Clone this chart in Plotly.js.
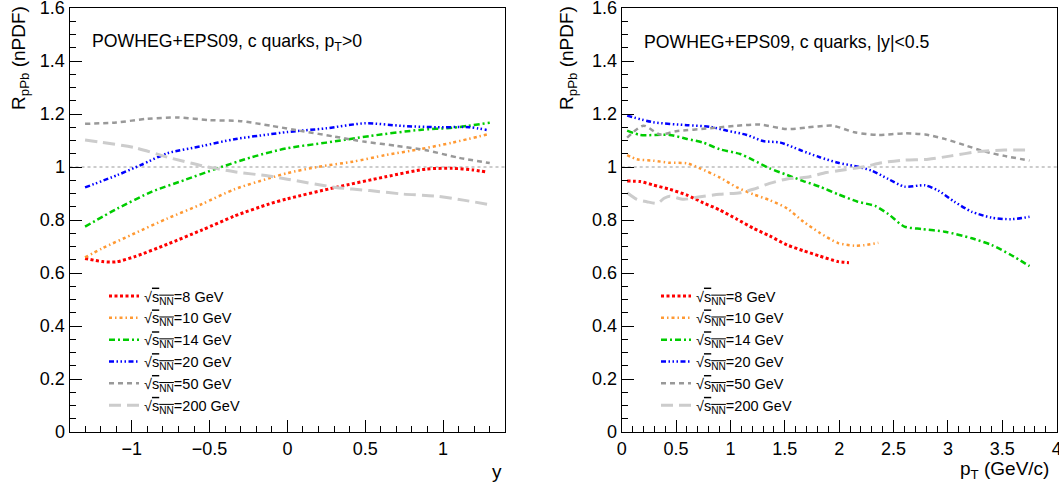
<!DOCTYPE html>
<html>
<head>
<meta charset="utf-8">
<script src="https://cdn.plot.ly/plotly-3.0.1.min.js"></script>
<style>html,body{margin:0;padding:0;background:#fff;}#chart{width:1059px;height:491px;}</style>
</head>
<body>
<div id="chart"></div>
<script>
// ---------- data ----------
const energies = ["8", "10", "14", "20", "50", "200"];
const seriesColors = ["#ff0000", "#ff9933", "#00cc00", "#0000ff", "#999999", "#cccccc"];
const seriesDash = ["3px,2.5px", "3px,3px,1.5px,3px", "6px,3px,2px,3px", "5px,2.5px,1.5px,2.5px,1.5px,2.5px,1.5px,2.5px", "5px,4px", "12px,6px"];
const seriesWidth = [3, 2.5, 2.5, 2.5, 2.5, 3];

// Left panel: R_pPb vs rapidity y (pT > 0)
const rapX_8   = [-1.3, -1.19, -1.1, -0.98, -0.77, -0.55, -0.34, -0.12, 0, 0.31, 0.63, 0.89, 1.06, 1.19, 1.28];
const rapR_8   = [0.655, 0.643, 0.642, 0.662, 0.709, 0.762, 0.815, 0.86, 0.88, 0.923, 0.963, 0.992, 0.995, 0.989, 0.981];
const rapX_10  = [-1.3, -1.19, -0.98, -0.77, -0.55, -0.34, -0.12, 0, 0.2, 0.42, 0.63, 0.85, 1.06, 1.3];
const rapR_10  = [0.659, 0.693, 0.75, 0.806, 0.86, 0.916, 0.957, 0.977, 1.001, 1.02, 1.045, 1.067, 1.092, 1.125];
const rapX_14  = [-1.3, -1.09, -0.87, -0.66, -0.45, -0.23, 0, 0.25, 0.53, 0.85, 1.06, 1.3];
const rapR_14  = [0.775, 0.844, 0.907, 0.951, 0.995, 1.037, 1.071, 1.092, 1.117, 1.14, 1.148, 1.167];
const rapX_20  = [-1.3, -1.09, -0.94, -0.77, -0.55, -0.34, -0.12, 0, 0.25, 0.5, 0.74, 0.96, 1.17, 1.28];
const rapR_20  = [0.923, 0.97, 1.008, 1.052, 1.079, 1.105, 1.123, 1.132, 1.146, 1.165, 1.155, 1.15, 1.15, 1.14];
const rapX_50  = [-1.3, -1.1, -0.9, -0.7, -0.5, -0.3, -0.1, 0.1, 0.3, 0.5, 0.7, 0.9, 1.1, 1.3];
const rapR_50  = [1.163, 1.168, 1.182, 1.187, 1.177, 1.173, 1.155, 1.135, 1.115, 1.095, 1.08, 1.062, 1.035, 1.015];
const rapX_200 = [-1.3, -0.98, -0.77, -0.55, -0.34, -0.12, 0, 0.31, 0.53, 0.74, 0.96, 1.13, 1.3];
const rapR_200 = [1.102, 1.073, 1.037, 1.005, 0.982, 0.966, 0.954, 0.923, 0.911, 0.898, 0.89, 0.875, 0.858];

// Right panel: R_pPb vs pT (|y| < 0.5)
const ptX_8   = [0.05, 0.17, 0.29, 0.44, 0.6, 0.75, 0.9, 1.06, 1.21, 1.36, 1.52, 1.67, 1.82, 1.99, 2.09];
const ptR_8   = [0.947, 0.945, 0.932, 0.916, 0.894, 0.865, 0.838, 0.803, 0.769, 0.74, 0.706, 0.684, 0.664, 0.643, 0.639];
const ptX_10  = [0.05, 0.14, 0.29, 0.44, 0.6, 0.72, 0.9, 1.06, 1.21, 1.36, 1.52, 1.67, 1.82, 1.99, 2.14, 2.23, 2.36];
const ptR_10  = [1.045, 1.029, 1.024, 1.016, 1.014, 0.995, 0.961, 0.923, 0.897, 0.875, 0.844, 0.794, 0.752, 0.713, 0.703, 0.705, 0.714];
const ptX_14  = [0.05, 0.17, 0.44, 0.6, 0.75, 0.9, 1.09, 1.21, 1.36, 1.52, 1.67, 1.82, 1.99, 2.17, 2.33, 2.45, 2.6, 2.76, 2.97, 3.22, 3.4, 3.58, 3.75];
const ptR_14  = [1.137, 1.121, 1.121, 1.106, 1.092, 1.067, 1.049, 1.026, 0.995, 0.97, 0.947, 0.926, 0.897, 0.869, 0.853, 0.823, 0.775, 0.766, 0.756, 0.731, 0.706, 0.668, 0.626];
const ptX_20  = [0.05, 0.29, 0.6, 0.81, 0.97, 1.15, 1.3, 1.46, 1.64, 1.82, 1.99, 2.14, 2.3, 2.45, 2.6, 2.79, 2.91, 3.06, 3.22, 3.4, 3.58, 3.75];
const ptR_20  = [1.194, 1.169, 1.158, 1.152, 1.137, 1.121, 1.098, 1.092, 1.064, 1.037, 1.016, 1.004, 0.986, 0.955, 0.926, 0.931, 0.911, 0.869, 0.831, 0.809, 0.803, 0.812];
const ptX_50  = [0.05, 0.2, 0.35, 0.5, 0.81, 1.06, 1.27, 1.52, 1.7, 1.94, 2.14, 2.36, 2.6, 2.79, 2.97, 3.15, 3.34, 3.52, 3.75];
const ptR_50  = [1.111, 1.156, 1.123, 1.135, 1.146, 1.156, 1.16, 1.143, 1.149, 1.156, 1.131, 1.121, 1.127, 1.123, 1.106, 1.083, 1.058, 1.042, 1.024];
const ptX_200 = [0.05, 0.14, 0.23, 0.33, 0.39, 0.44, 0.57, 0.69, 0.9, 1.09, 1.21, 1.36, 1.52, 1.7, 1.88, 1.99, 2.23, 2.39, 2.6, 2.82, 3.03, 3.28, 3.52, 3.75];
const ptR_200 = [0.903, 0.878, 0.869, 0.863, 0.882, 0.89, 0.878, 0.886, 0.897, 0.903, 0.916, 0.938, 0.955, 0.961, 0.979, 0.986, 1.001, 1.016, 1.026, 1.029, 1.042, 1.058, 1.064, 1.064];

const leftX  = [rapX_8, rapX_10, rapX_14, rapX_20, rapX_50, rapX_200];
const leftY  = [rapR_8, rapR_10, rapR_14, rapR_20, rapR_50, rapR_200];
const rightX = [ptX_8, ptX_10, ptX_14, ptX_20, ptX_50, ptX_200];
const rightY = [ptR_8, ptR_10, ptR_14, ptR_20, ptR_50, ptR_200];

// ---------- traces ----------
const FONT = '"Liberation Sans", Arial, Helvetica, sans-serif';
function label(e) {
  return '√<span style="text-decoration:overline">s<sub>NN</sub></span>=' + e + ' GeV';
}
const traces = [];
energies.forEach((e, i) => {
  traces.push({
    x: leftX[i], y: leftY[i], xaxis: 'x', yaxis: 'y', type: 'scatter', mode: 'lines',
    name: label(e), legend: 'legend',
    line: {color: seriesColors[i], width: seriesWidth[i], dash: seriesDash[i], shape: 'spline', smoothing: 0.7}
  });
});
energies.forEach((e, i) => {
  traces.push({
    x: rightX[i], y: rightY[i], xaxis: 'x2', yaxis: 'y2', type: 'scatter', mode: 'lines',
    name: label(e), legend: 'legend2',
    line: {color: seriesColors[i], width: seriesWidth[i], dash: seriesDash[i], shape: 'spline', smoothing: 0.7}
  });
});

const W = 1059, H = 491;
const frameTop = 8, frameBottom = 432;
const yDom = [1 - frameBottom / H, 1 - frameTop / H];

const axisCommon = {
  showgrid: false, zeroline: false, showline: true, linecolor: '#000', linewidth: 1, mirror: true,
  ticks: 'inside', ticklen: 12, tickwidth: 1, tickcolor: '#000',
  tickfont: {family: FONT, size: 18, color: '#000'},
  ticklabeloverflow: 'allow',
  fixedrange: true
};
const yAxisCommon = Object.assign({}, axisCommon, {
  range: [0, 1.60001], dtick: 0.2, tick0: 0,
  minor: {dtick: 0.05, ticks: 'inside', ticklen: 6, tickcolor: '#000', showgrid: false}
});

const legendCommon = {
  font: {family: FONT, size: 14.5, color: '#000'},
  bgcolor: 'rgba(0,0,0,0)', borderwidth: 0, itemwidth: 30,
  xanchor: 'left', yanchor: 'top', tracegroupgap: 0
};

const annFont = {family: FONT, size: 17.7, color: '#000'};
const titleFont = {family: FONT, size: 19, color: '#000'};
const layout = {
  width: W, height: H,
  margin: {l: 0, r: 0, t: 0, b: 0},
  paper_bgcolor: '#fff', plot_bgcolor: '#fff',
  showlegend: true,
  xaxis: Object.assign({}, axisCommon, {
    domain: [69.5 / W, 505.3 / W], range: [-1.4, 1.4], dtick: 0.5, tick0: 0,
    minor: {dtick: 0.1, ticks: 'inside', ticklen: 6, tickcolor: '#000', showgrid: false},
    anchor: 'y'
  }),
  yaxis: Object.assign({}, yAxisCommon, {domain: yDom, anchor: 'x'}),
  xaxis2: Object.assign({}, axisCommon, {
    domain: [621.7 / W, 1056.7 / W], range: [0, 4.0001], dtick: 0.5, tick0: 0,
    minor: {dtick: 0.1, ticks: 'inside', ticklen: 6, tickcolor: '#000', showgrid: false},
    anchor: 'y2'
  }),
  yaxis2: Object.assign({}, yAxisCommon, {domain: yDom, anchor: 'x2'}),
  legend: Object.assign({}, legendCommon, {x: 104 / W, y: 1 - 280 / H}),
  legend2: Object.assign({}, legendCommon, {x: 656 / W, y: 1 - 280 / H}),
  shapes: [
    {type: 'line', xref: 'x domain', yref: 'y', x0: 0, x1: 1, y0: 1, y1: 1, line: {color: '#999', width: 1, dash: 'dot'}, layer: 'below'},
    {type: 'line', xref: 'x2 domain', yref: 'y2', x0: 0, x1: 1, y0: 1, y1: 1, line: {color: '#999', width: 1, dash: 'dot'}, layer: 'below'}
  ],
  annotations: [
    {xref: 'paper', yref: 'paper', x: 90 / W, y: 1 - 42 / H, xanchor: 'left', yanchor: 'middle', showarrow: false,
     text: 'POWHEG+EPS09, c quarks, p<sub>T</sub>>0', font: annFont},
    {xref: 'paper', yref: 'paper', x: 642 / W, y: 1 - 42 / H, xanchor: 'left', yanchor: 'middle', showarrow: false,
     text: 'POWHEG+EPS09, c quarks, |y|<0.5', font: annFont},
    {xref: 'paper', yref: 'paper', x: 20 / W, y: 1 - 58 / H, xanchor: 'center', yanchor: 'middle', showarrow: false,
     textangle: -90, text: 'R<sub>pPb</sub> (nPDF)', font: titleFont},
    {xref: 'paper', yref: 'paper', x: 568 / W, y: 1 - 58 / H, xanchor: 'center', yanchor: 'middle', showarrow: false,
     textangle: -90, text: 'R<sub>pPb</sub> (nPDF)', font: titleFont},
    {xref: 'paper', yref: 'paper', x: 504 / W, y: 1 - 471 / H, xanchor: 'right', yanchor: 'middle', showarrow: false,
     text: 'y', font: titleFont},
    {xref: 'paper', yref: 'paper', x: 1051 / W, y: 1 - 470 / H, xanchor: 'right', yanchor: 'middle', showarrow: false,
     text: 'p<sub>T</sub> (GeV/c)', font: titleFont}
  ]
};

Plotly.newPlot('chart', traces, layout, {displayModeBar: false, staticPlot: true});
</script>
</body>
</html>
